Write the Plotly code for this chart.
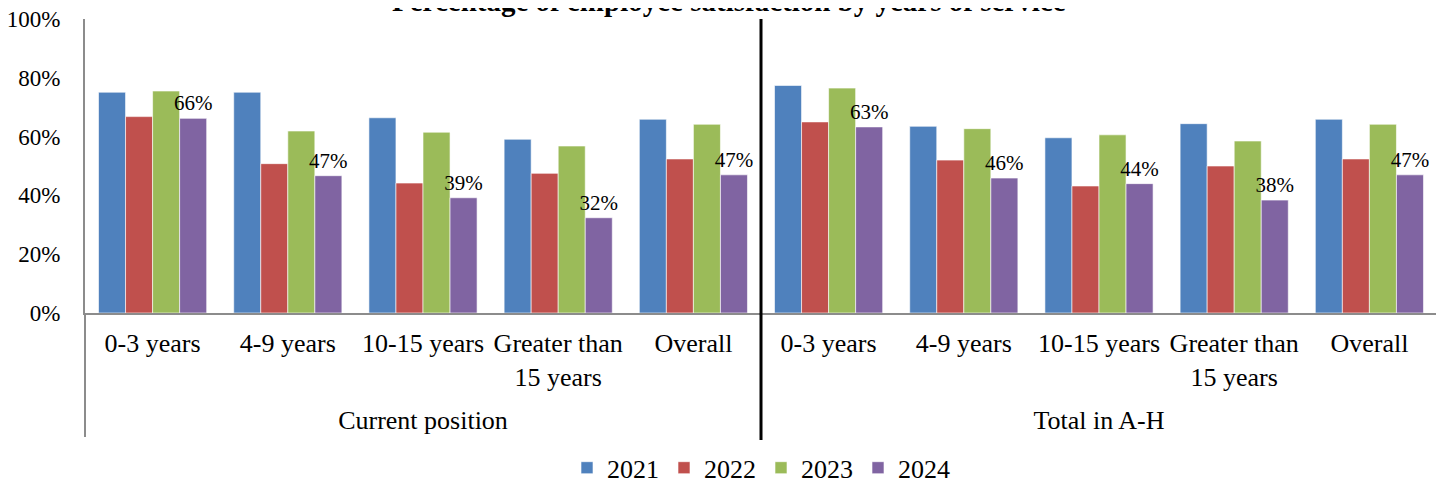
import plotly.graph_objects as go
from plotly.subplots import make_subplots

panels = ["Current position", "Total in A-H"]
categories = ["0-3 years", "4-9 years", "10-15 years", "Greater than<br>15 years", "Overall"]
years = ["2021", "2022", "2023", "2024"]

# values per year: first five = current position, last five = total in A-H
v2021 = [0.751, 0.751, 0.664, 0.591, 0.659, 0.774, 0.635, 0.596, 0.644, 0.659]
v2022 = [0.668, 0.508, 0.442, 0.475, 0.524, 0.650, 0.520, 0.432, 0.500, 0.524]
v2023 = [0.755, 0.619, 0.615, 0.568, 0.642, 0.765, 0.627, 0.606, 0.585, 0.642]
v2024 = [0.662, 0.467, 0.392, 0.324, 0.470, 0.633, 0.459, 0.440, 0.384, 0.470]

colors = ["#4F81BD", "#C0504D", "#9BBB59", "#8064A2"]
FONT = "Liberation Serif, Times New Roman, serif"
GREY = "#8c8c8c"

fig = make_subplots(rows=1, cols=2, shared_yaxes=True, horizontal_spacing=0)

for p in range(2):
    for name, vals, col in zip(years, [v2021, v2022, v2023, v2024], colors):
        bar = dict(
            x=categories, y=vals[p * 5:(p + 1) * 5], name=name, legendgroup=name, showlegend=(p == 0),
            marker=dict(color=col, line=dict(color="rgba(255,255,255,0.6)", width=1)),
        )
        if name == "2024":
            bar.update(texttemplate="%{y:.0%}", textposition="outside", cliponaxis=False,
                       constraintext="none", textfont=dict(family=FONT, size=21, color="black"))
        fig.add_bar(**bar, row=1, col=p + 1)

# page body has an 8px margin, so the figure is laid out 8px smaller
W, H = 1436, 475

# grey edge lines running down through the label area, black separator in the middle
fig.add_shape(type="line", xref="paper", yref="paper", x0=0, x1=0, y0=0, y1=-0.422,
              line=dict(color=GREY, width=2))
fig.add_shape(type="line", xref="paper", yref="paper", x0=1, x1=1, y0=0, y1=-0.422,
              line=dict(color=GREY, width=2))
fig.add_shape(type="line", xref="paper", yref="paper", x0=0.5, x1=0.5, y0=1, y1=-0.432,
              line=dict(color="black", width=3))

# title sits partly above the top edge, as in the source
fig.add_annotation(text="<b>Percentage of employee satisfaction by years of service</b>",
                   xref="paper", yref="paper", x=0.476, y=1.062, xanchor="center", yanchor="middle",
                   showarrow=False, font=dict(family=FONT, size=29, color="black"))

fig.update_layout(
    barmode="group", bargap=0.2, bargroupgap=0,
    width=W, height=H,
    margin=dict(l=77, r=7, t=11, b=170, autoexpand=False),
    paper_bgcolor="white", plot_bgcolor="white",
    font=dict(family=FONT, size=26, color="black"),
    legend=dict(orientation="h", x=0.5, xanchor="center", yref="container", y=0.032, yanchor="middle",
                font=dict(family=FONT, size=26), itemwidth=30),
)
fig.update_yaxes(range=[0, 1], dtick=0.2, tickformat=".0%", showgrid=False, zeroline=False, ticks="")
fig.update_yaxes(showline=True, linecolor=GREY, linewidth=2, ticklabelstandoff=18,
                 ticklabeloverflow="allow", tickfont=dict(family=FONT, size=23), row=1, col=1)
fig.update_yaxes(showline=False, showticklabels=False, row=1, col=2)
fig.update_xaxes(showline=True, linecolor=GREY, linewidth=2, showgrid=False, ticks="",
                 ticklabelstandoff=6, tickfont=dict(family=FONT, size=26))
for i, p in enumerate(panels, start=1):
    fig.update_xaxes(title=dict(text=p, standoff=20, font=dict(family=FONT, size=26)), row=1, col=i)

fig.write_html("out.html")
